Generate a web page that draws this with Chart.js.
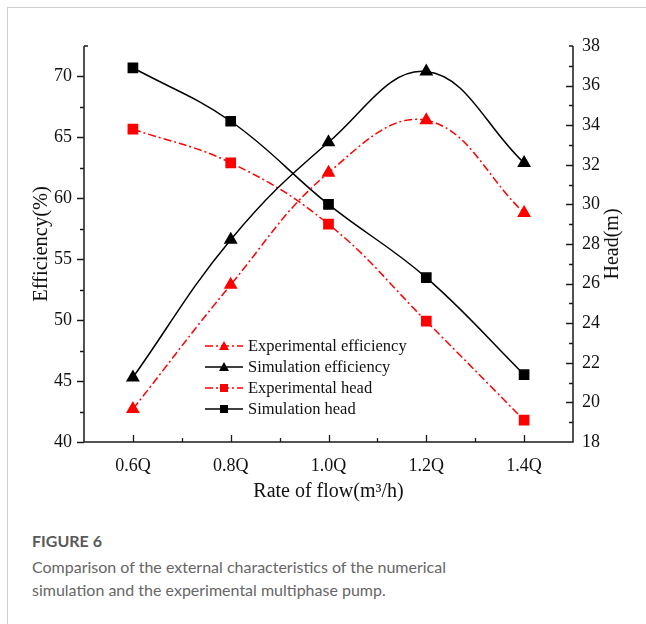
<!DOCTYPE html>
<html>
<head>
<meta charset="utf-8">
<script src="https://cdn.jsdelivr.net/npm/chart.js@4.4.1/dist/chart.umd.min.js"></script>
<style>
  body { margin: 0; background: #fff; }
  #wrap { position: relative; width: 646px; height: 624px; overflow: hidden; }
  #frame { position: absolute; left: 7px; top: 7px; width: 660px; height: 640px;
           border-left: 1px solid #cfcfcf; border-top: 1px solid #cfcfcf; }
  #chartBox { position: absolute; left: 0; top: 0; width: 646px; height: 510px; }
  .cap { position: absolute; left: 32px; font-family: Lato, "Open Sans", sans-serif; color: #666; }
  #figNo { top: 531px; font-size: 16px; font-weight: bold; color: #595959; }
  #capText { top: 556px; font-size: 16px; line-height: 22.5px; width: 610px; }
</style>
</head>
<body>
<div id="wrap">
  <div id="frame"></div>
  <div id="chartBox"><canvas id="myChart" width="646" height="510"></canvas></div>
  <div class="cap" id="figNo">FIGURE 6</div>
  <div class="cap" id="capText">Comparison of the external characteristics of the numerical<br>simulation and the experimental multiphase pump.</div>
</div>
<script>
// flow rate categories
const flowLabels = ['0.6Q', '0.8Q', '1.0Q', '1.2Q', '1.4Q'];

// efficiency (%), left axis
const expEfficiency = [42.7, 52.9, 62.1, 66.4, 58.8];
const simEfficiency = [45.3, 56.6, 64.6, 70.4, 62.9];

// head (m), right axis
const expHead = [33.8, 32.1, 29.0, 24.1, 19.1];
const simHead = [36.9, 34.2, 30.0, 26.3, 21.4];

const effTicks = [40, 45, 50, 55, 60, 65, 70];
const headTicks = [18, 20, 22, 24, 26, 28, 30, 32, 34, 36, 38];

const serif = '"Liberation Serif", "Times New Roman", serif';
const red = '#ff0000';
const black = '#000000';
const dashDot = [8, 3, 2, 3];

function pts(arr) {
  return arr.map((v, i) => ({ x: i + 1, y: v }));
}

// legend entries drawn inside the plot
const legendItems = [
  { text: 'Experimental efficiency', color: red, dash: dashDot, marker: 'triangle' },
  { text: 'Simulation efficiency', color: black, dash: [], marker: 'triangle' },
  { text: 'Experimental head', color: red, dash: dashDot, marker: 'rect' },
  { text: 'Simulation head', color: black, dash: [], marker: 'rect' }
];

const axisPlugin = {
  id: 'originAxes',
  afterDraw(chart) {
    const ctx = chart.ctx;
    const a = chart.chartArea;
    const x = chart.scales.x, y = chart.scales.y, y1 = chart.scales.y1;
    ctx.save();
    ctx.strokeStyle = '#1a1a1a';
    ctx.lineWidth = 1.5;
    ctx.setLineDash([]);
    ctx.beginPath();
    ctx.moveTo(a.left, a.top); ctx.lineTo(a.left, a.bottom);
    ctx.lineTo(a.right, a.bottom); ctx.lineTo(a.right, a.top);
    // small stubs at top ends
    ctx.moveTo(a.left, a.top); ctx.lineTo(a.left + 4, a.top);
    ctx.moveTo(a.right, a.top); ctx.lineTo(a.right - 4, a.top);
    ctx.stroke();

    ctx.lineWidth = 1.3;
    ctx.beginPath();
    // left axis: ticks outward
    for (let v = 40; v <= 70; v += 2.5) {
      const py = Math.round(y.getPixelForValue(v)) + 0.5;
      const len = (v % 5 === 0) ? 7 : 4;
      ctx.moveTo(a.left, py); ctx.lineTo(a.left - len, py);
    }
    // right axis: ticks inward
    for (let v = 19; v <= 37; v += 1) {
      const py = Math.round(y1.getPixelForValue(v)) + 0.5;
      const len = (v % 2 === 0) ? 7 : 4;
      ctx.moveTo(a.right, py); ctx.lineTo(a.right - len, py);
    }
    // bottom axis: ticks inward
    for (let v = 1; v <= 5; v += 0.5) {
      const px = Math.round(x.getPixelForValue(v)) + 0.5;
      const len = (v % 1 === 0) ? 7 : 4;
      ctx.moveTo(px, a.bottom); ctx.lineTo(px, a.bottom - len);
    }
    ctx.stroke();

    // right axis title, reading bottom to top
    ctx.save();
    ctx.translate(613, (a.top + a.bottom) / 2);
    ctx.rotate(-Math.PI / 2);
    ctx.font = '20px ' + serif;
    ctx.fillStyle = '#111';
    ctx.textAlign = 'center';
    ctx.textBaseline = 'middle';
    ctx.fillText('Head(m)', 0, 0);
    ctx.restore();

    // legend
    const lx0 = 205, lx1 = 243, mx = 224, tx = 248;
    const rows = [346, 367, 388, 409];
    ctx.font = '16.5px ' + serif;
    ctx.textBaseline = 'middle';
    ctx.textAlign = 'left';
    legendItems.forEach((it, i) => {
      const ry = rows[i];
      ctx.strokeStyle = it.color;
      ctx.lineWidth = 1.5;
      ctx.setLineDash(it.dash);
      ctx.beginPath();
      ctx.moveTo(lx0, ry); ctx.lineTo(lx1, ry);
      ctx.stroke();
      ctx.setLineDash([]);
      ctx.fillStyle = it.color;
      ctx.beginPath();
      if (it.marker === 'triangle') {
        ctx.moveTo(mx, ry - 5); ctx.lineTo(mx + 5, ry + 4); ctx.lineTo(mx - 5, ry + 4);
        ctx.closePath();
      } else {
        ctx.rect(mx - 4, ry - 4, 8, 8);
      }
      ctx.fill();
      ctx.fillStyle = '#111';
      ctx.fillText(it.text, tx, ry + 1);
    });
    ctx.restore();
  }
};

function lineSet(label, values, axis, color, dash, marker) {
  return {
    label: label,
    data: pts(values),
    yAxisID: axis,
    borderColor: color,
    backgroundColor: color,
    borderWidth: 1.5,
    borderDash: dash,
    pointStyle: marker,
    pointRadius: 6.5,
    tension: 0.4,
    fill: false
  };
}

const ctx = document.getElementById('myChart').getContext('2d');
const myChart = new Chart(ctx, {
  type: 'line',
  data: {
    datasets: [
      lineSet('Experimental efficiency', expEfficiency, 'y', red, dashDot, 'triangle'),
      lineSet('Simulation efficiency', simEfficiency, 'y', black, [], 'triangle'),
      lineSet('Experimental head', expHead, 'y1', red, dashDot, 'rect'),
      lineSet('Simulation head', simHead, 'y1', black, [], 'rect')
    ]
  },
  plugins: [axisPlugin],
  options: {
    responsive: false,
    animation: false,
    layout: { padding: { top: 46, left: 0, right: 0, bottom: 0 } },
    plugins: {
      legend: { display: false },
      tooltip: { enabled: false }
    },
    scales: {
      x: {
        type: 'linear',
        min: 0.5,
        max: 5.5,
        grid: { display: false, drawTicks: false },
        border: { display: false },
        afterBuildTicks: (s) => { s.ticks = flowLabels.map((l, i) => ({ value: i + 1 })); },
        afterFit: (s) => { s.height = 68; },
        ticks: {
          padding: 13,
          color: '#111',
          font: { family: serif, size: 18 },
          callback: (v) => flowLabels[v - 1]
        },
        title: {
          display: true,
          text: 'Rate of flow(m³/h)',
          color: '#111',
          font: { family: serif, size: 20 },
          padding: { top: 0, bottom: 6 }
        }
      },
      y: {
        position: 'left',
        min: 40,
        max: 72.5,
        grid: { display: false, drawTicks: false },
        border: { display: false },
        afterBuildTicks: (s) => { s.ticks = effTicks.map(v => ({ value: v })); },
        afterFit: (s) => { s.width = 84; },
        ticks: {
          padding: 12,
          color: '#111',
          font: { family: serif, size: 18 }
        },
        title: {
          display: true,
          text: 'Efficiency(%)',
          color: '#111',
          font: { family: serif, size: 20.5 },
          padding: { top: 29, bottom: 0 }
        }
      },
      y1: {
        position: 'right',
        min: 18,
        max: 38,
        grid: { display: false, drawTicks: false },
        border: { display: false },
        afterBuildTicks: (s) => { s.ticks = headTicks.map(v => ({ value: v })); },
        afterFit: (s) => { s.width = 73; },
        ticks: {
          padding: 9,
          color: '#111',
          font: { family: serif, size: 18 }
        }
      }
    }
  }
});
</script>
</body>
</html>
